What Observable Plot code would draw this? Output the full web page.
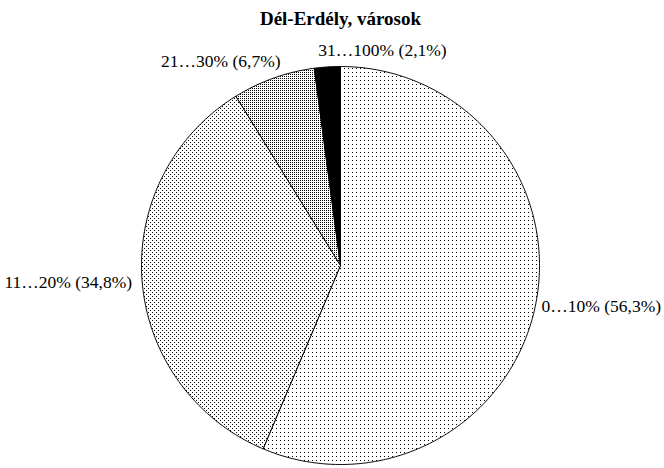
<!DOCTYPE html>
<html>
<head>
<meta charset="utf-8">
<script src="https://cdn.jsdelivr.net/npm/d3@7"></script>
<script src="https://cdn.jsdelivr.net/npm/@observablehq/plot@0.6"></script>
<style>
  html, body { margin: 0; padding: 0; background: white; }
  #chart svg { display: block; }
</style>
</head>
<body>
<div id="chart"></div>
<script>
const title = "Dél-Erdély, városok";
const categories = ["0…10%", "11…20%", "21…30%", "31…100%"];
const shares = [56.3, 34.8, 6.7, 2.1];

const W = 664, H = 468;
const cx = 340, cy = 265, R = 199;

// Pie geometry (angles clockwise from 12 o'clock)
const arcs = d3.pie().sort(null).value(d => d)(shares);
const slices = arcs.map((a, i) => {
  const pts = [{x: 0, y: 0}];
  const n = Math.max(2, Math.ceil((a.endAngle - a.startAngle) / (Math.PI / 360)));
  for (let k = 0; k <= n; k++) {
    const t = a.startAngle + (a.endAngle - a.startAngle) * k / n;
    pts.push({x: Math.sin(t), y: Math.cos(t)});
  }
  pts.push({x: 0, y: 0});
  return pts;
});
const labels = arcs.map((a, i) => {
  const m = (a.startAngle + a.endAngle) / 2;
  return {
    x: Math.sin(m), y: Math.cos(m),
    text: `${categories[i]} (${String(shares[i]).replace(".", ",")}%)`
  };
});

// label placement style (anchor + pixel nudges) per slice
const labelStyle = [
  {textAnchor: "start", dx: 6, dy: 1},
  {textAnchor: "end", dx: -10, dy: 2},
  {textAnchor: "end", dx: 7, dy: -17},
  {textAnchor: "start", dx: -9, dy: -17}
];

const font = "'Liberation Serif', 'Times New Roman', serif";

const svg = Plot.plot({
  width: W, height: H,
  margin: 0,
  style: {background: "white", fontFamily: font, color: "black"},
  x: {domain: [-cx / R, (W - cx) / R], axis: null},
  y: {domain: [-(H - cy) / R, cy / R], axis: null},
  marks: [
    ...slices.map((pts, i) => Plot.line(pts, {
      x: "x", y: "y",
      fill: `url(#pat${i})`,
      stroke: "black", strokeWidth: 1, strokeLinejoin: "miter"
    })),
    ...labels.map((l, i) => Plot.text([l], {
      x: "x", y: "y", text: "text",
      fontSize: 17.5, fill: "black", lineAnchor: "middle",
      ...labelStyle[i]
    })),
    Plot.text([title], {
      x: () => 0, frameAnchor: "top", text: d => d,
      fontSize: 19, fontWeight: "bold", fill: "black",
      lineAnchor: "middle", dy: 18
    })
  ]
});

// Patterns (dot screens)
const NS = "http://www.w3.org/2000/svg";
const defs = document.createElementNS(NS, "defs");
const patternSpecs = [
  {w: 4, h: 4, dots: [[0, 0]], solid: false},
  {w: 4, h: 4, dots: [[0, 0], [2, 2]], solid: false},
  {w: 2, h: 2, dots: [[0, 0]], solid: false},
  {w: 1, h: 1, dots: [], solid: true}
];
patternSpecs.forEach((p, i) => {
  const pat = document.createElementNS(NS, "pattern");
  pat.setAttribute("id", `pat${i}`);
  pat.setAttribute("patternUnits", "userSpaceOnUse");
  pat.setAttribute("width", p.w);
  pat.setAttribute("height", p.h);
  pat.setAttribute("x", -0.5);
  pat.setAttribute("y", -0.5);
  const bg = document.createElementNS(NS, "rect");
  bg.setAttribute("width", p.w); bg.setAttribute("height", p.h);
  bg.setAttribute("fill", p.solid ? "black" : "white");
  pat.appendChild(bg);
  p.dots.forEach(([dx, dy]) => {
    const r = document.createElementNS(NS, "rect");
    r.setAttribute("x", dx); r.setAttribute("y", dy);
    r.setAttribute("width", 1); r.setAttribute("height", 1);
    r.setAttribute("fill", "black");
    r.setAttribute("shape-rendering", "crispEdges");
    pat.appendChild(r);
  });
  defs.appendChild(pat);
});
svg.insertBefore(defs, svg.firstChild);

document.getElementById("chart").appendChild(svg);
</script>
</body>
</html>
